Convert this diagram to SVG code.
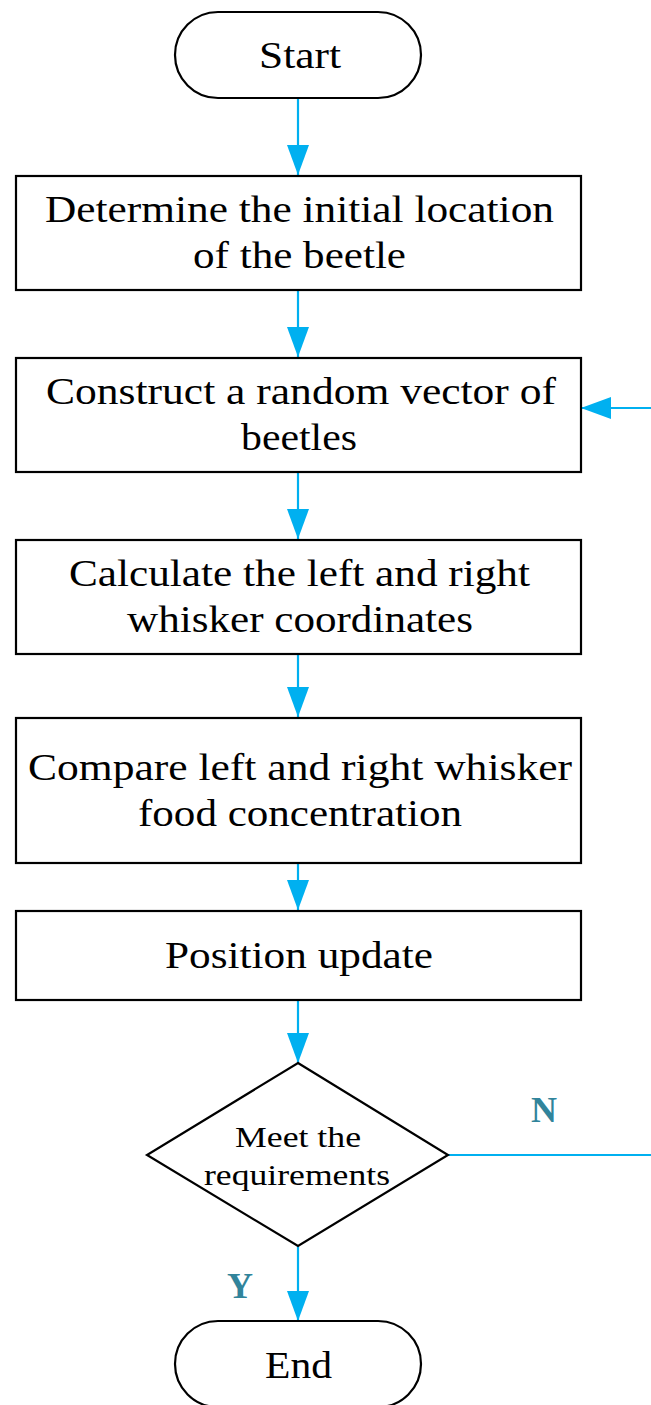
<svg xmlns="http://www.w3.org/2000/svg" width="651" height="1405" viewBox="0 0 651 1405">
<style>
.node{fill:#fff;stroke:#000;stroke-width:2.2}
.t{font-family:"Liberation Serif","Times New Roman",serif;font-size:37px;fill:#000;text-anchor:middle}
.td{font-family:"Liberation Serif","Times New Roman",serif;font-size:30px;fill:#000;text-anchor:middle}
.lbl{font-family:"Liberation Serif","Times New Roman",serif;font-size:36px;font-weight:bold;fill:#31849B;text-anchor:middle}
.c{fill:none;stroke:#00B0F0;stroke-width:2.2}
</style>
<defs>
<marker id="ah" markerUnits="userSpaceOnUse" markerWidth="31" markerHeight="23" refX="30" refY="11" orient="auto">
<path d="M0,0 L30,11 L0,22 Z" fill="#00B0F0"/>
</marker>
</defs>
<g id="connectors">
<path class="c" d="M298,98 V175" marker-end="url(#ah)"/>
<path class="c" d="M298,290 V357" marker-end="url(#ah)"/>
<path class="c" d="M298,472 V539" marker-end="url(#ah)"/>
<path class="c" d="M298,654 V717" marker-end="url(#ah)"/>
<path class="c" d="M298,863 V910" marker-end="url(#ah)"/>
<path class="c" d="M298,1000 V1063" marker-end="url(#ah)"/>
<path class="c" d="M298,1246 V1321" marker-end="url(#ah)"/>
<path class="c" d="M448,1155 H656 V408 H581" marker-end="url(#ah)"/>
<text class="lbl" x="544" y="1122">N</text>
<text class="lbl" x="240" y="1298">Y</text>
</g>
<g id="start">
<rect class="node" x="175" y="12" width="246" height="86" rx="43" ry="43"/>
<text class="t" x="300" y="68" textLength="82" lengthAdjust="spacingAndGlyphs">Start</text>
</g>
<g id="init">
<rect class="node" x="16" y="176" width="565" height="114"/>
<text class="t" x="299.5" y="222" textLength="509" lengthAdjust="spacingAndGlyphs">Determine the initial location</text>
<text class="t" x="299.5" y="268" textLength="213" lengthAdjust="spacingAndGlyphs">of the beetle</text>
</g>
<g id="construct">
<rect class="node" x="16" y="358" width="565" height="114"/>
<text class="t" x="301" y="404" textLength="510" lengthAdjust="spacingAndGlyphs">Construct a random vector of</text>
<text class="t" x="299" y="450" textLength="116" lengthAdjust="spacingAndGlyphs">beetles</text>
</g>
<g id="calculate">
<rect class="node" x="16" y="540" width="565" height="114"/>
<text class="t" x="299.5" y="586" textLength="461" lengthAdjust="spacingAndGlyphs">Calculate the left and right</text>
<text class="t" x="300" y="632" textLength="346" lengthAdjust="spacingAndGlyphs">whisker coordinates</text>
</g>
<g id="compare">
<rect class="node" x="16" y="718" width="565" height="145"/>
<text class="t" x="300" y="780" textLength="544" lengthAdjust="spacingAndGlyphs">Compare left and right whisker</text>
<text class="t" x="300" y="826" textLength="324" lengthAdjust="spacingAndGlyphs">food concentration</text>
</g>
<g id="update">
<rect class="node" x="16" y="911" width="565" height="89"/>
<text class="t" x="299" y="968" textLength="268" lengthAdjust="spacingAndGlyphs">Position update</text>
</g>
<g id="decision">
<polygon class="node" points="298,1063 448,1155 298,1246 147,1155"/>
<text class="td" x="298" y="1147" textLength="126" lengthAdjust="spacingAndGlyphs">Meet the</text>
<text class="td" x="297" y="1185" textLength="186" lengthAdjust="spacingAndGlyphs">requirements</text>
</g>
<g id="end">
<rect class="node" x="175" y="1321" width="246" height="86" rx="43" ry="43"/>
<text class="t" x="298.5" y="1378" textLength="67" lengthAdjust="spacingAndGlyphs">End</text>
</g>
</svg>
